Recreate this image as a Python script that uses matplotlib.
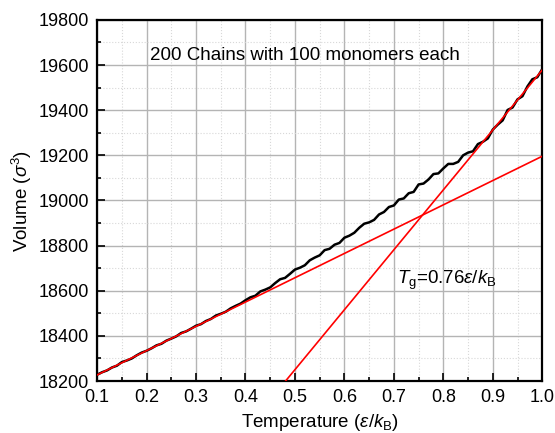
import matplotlib.pyplot as plt
from matplotlib.ticker import MultipleLocator

plt.rcParams['font.family'] = ['Liberation Sans', 'DejaVu Sans']
plt.rcParams['mathtext.fontset'] = 'custom'
plt.rcParams['mathtext.rm'] = 'Liberation Sans'
plt.rcParams['mathtext.it'] = 'Liberation Sans:italic'

# Simulation data: temperature (epsilon/kB) and volume (sigma^3)
temperature = [0.10, 0.11, 0.12, 0.13, 0.14, 0.15, 0.16, 0.17, 0.18, 0.19,
               0.20, 0.21, 0.22, 0.23, 0.24, 0.25, 0.26, 0.27, 0.28, 0.29,
               0.30, 0.31, 0.32, 0.33, 0.34, 0.35, 0.36, 0.37, 0.38, 0.39,
               0.40, 0.41, 0.42, 0.43, 0.44, 0.45, 0.46, 0.47, 0.48, 0.49,
               0.50, 0.51, 0.52, 0.53, 0.54, 0.55, 0.56, 0.57, 0.58, 0.59,
               0.60, 0.61, 0.62, 0.63, 0.64, 0.65, 0.66, 0.67, 0.68, 0.69,
               0.70, 0.71, 0.72, 0.73, 0.74, 0.75, 0.76, 0.77, 0.78, 0.79,
               0.80, 0.81, 0.82, 0.83, 0.84, 0.85, 0.86, 0.87, 0.88, 0.89,
               0.90, 0.91, 0.92, 0.93, 0.94, 0.95, 0.96, 0.97, 0.98, 0.99, 1.00]
volume = [18228, 18239, 18247, 18260, 18268, 18284, 18291, 18300, 18314, 18326,
          18334, 18345, 18358, 18365, 18379, 18388, 18398, 18413, 18420, 18432,
          18445, 18452, 18466, 18475, 18490, 18498, 18507, 18522, 18533, 18543,
          18558, 18571, 18578, 18597, 18605, 18615, 18634, 18651, 18657, 18675,
          18694, 18702, 18713, 18735, 18747, 18757, 18780, 18786, 18804, 18812,
          18835, 18844, 18857, 18879, 18897, 18903, 18914, 18938, 18949, 18971,
          18978, 19004, 19009, 19032, 19038, 19071, 19075, 19093, 19117, 19120,
          19142, 19162, 19162, 19171, 19200, 19212, 19218, 19250, 19260, 19275,
          19314, 19336, 19355, 19401, 19412, 19448, 19462, 19505, 19537, 19546, 19582]

# Linear fits (end points) for glass and melt branches
glass_T = [0.1, 1.0]
glass_V = [18227, 19196]
melt_T = [0.481, 1.0]
melt_V = [18200, 19578]

fig = plt.figure(figsize=(5.55, 4.33), dpi=100)
ax = fig.add_axes([0.175, 0.12, 0.802, 0.834])

ax.plot(temperature, volume, color='black', lw=1.8, zorder=3)
ax.plot(glass_T, glass_V, color='red', lw=1.2, zorder=4)
ax.plot(melt_T, melt_V, color='red', lw=1.2, zorder=4)

ax.set_xlim(0.1, 1.0)
ax.set_ylim(18200, 19800)
ax.xaxis.set_major_locator(MultipleLocator(0.1))
ax.xaxis.set_minor_locator(MultipleLocator(0.05))
ax.yaxis.set_major_locator(MultipleLocator(200))
ax.yaxis.set_minor_locator(MultipleLocator(100))
ax.set_xticklabels(['%.1f' % t for t in ax.get_xticks()])

ax.grid(which='major', color='#b4b4b4', lw=1.0, ls='-')
ax.grid(which='minor', color='#d8d8d8', lw=0.8, ls=':')
ax.set_axisbelow(True)

ax.tick_params(which='both', direction='in', top=False, right=False, labelsize=13, width=1.2)
ax.tick_params(which='major', length=6, pad=6)
ax.tick_params(which='minor', length=3)
for s in ax.spines.values():
    s.set_linewidth(1.6)

ax.set_xlabel(r'Temperature ($\varepsilon$/$k_{\rm B}$)', fontsize=13.5, labelpad=4)
ax.set_ylabel(r'Volume ($\sigma^3$)', fontsize=13.5, labelpad=3)

ax.text(0.207, 19644, '200 Chains with 100 monomers each', fontsize=13.5, va='center')
ax.text(0.707, 18644, r'$T_{\rm g}$=0.76$\varepsilon$/$k_{\rm B}$', fontsize=13.5, va='center')

fig.savefig('out.png', dpi=100)
